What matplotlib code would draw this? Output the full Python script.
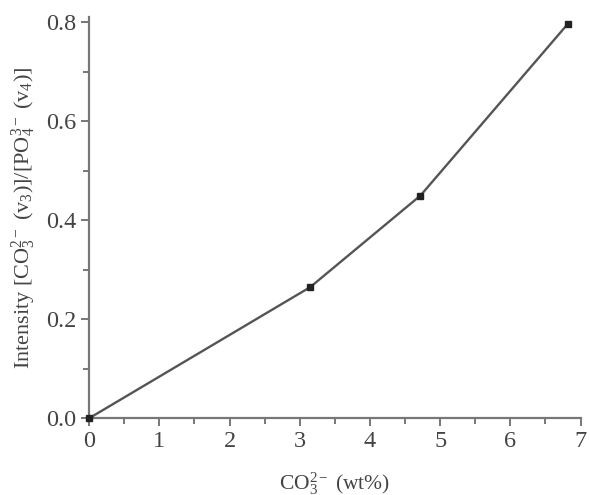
import matplotlib
matplotlib.use("Agg")
import matplotlib.pyplot as plt
from matplotlib.ticker import MultipleLocator, FormatStrFormatter

plt.rcParams['font.family'] = ['Liberation Serif', 'DejaVu Serif']
plt.rcParams['mathtext.fontset'] = 'custom'
plt.rcParams['mathtext.rm'] = 'Liberation Serif'
plt.rcParams['mathtext.it'] = 'Liberation Serif:italic'

co3_wt = [0.0, 3.15, 4.72, 6.82]
intensity = [0.0, 0.265, 0.45, 0.797]

fig = plt.figure(figsize=(5.9, 4.95), dpi=100)
ax = fig.add_axes([0.151, 0.155, 0.833, 0.81])

ax.plot(co3_wt, intensity, color='#555555', lw=1.7, marker='s', ms=5,
        mfc='#222222', mec='#222222', clip_on=False, zorder=3)

ax.set_xlim(0, 7)
ax.set_ylim(0, 0.81)
ax.xaxis.set_major_locator(MultipleLocator(1))
ax.xaxis.set_minor_locator(MultipleLocator(0.5))
ax.yaxis.set_major_locator(MultipleLocator(0.2))
ax.yaxis.set_minor_locator(MultipleLocator(0.1))
ax.yaxis.set_major_formatter(FormatStrFormatter('%.1f'))

for s in ['top', 'right']:
    ax.spines[s].set_visible(False)
for s in ['left', 'bottom']:
    ax.spines[s].set_color('#777777')
    ax.spines[s].set_linewidth(1.6)

ax.tick_params(which='both', direction='out', color='#777777', width=1.4,
               labelsize=17.5, labelcolor='#444444')
ax.tick_params(which='major', length=6, pad=3)
ax.tick_params(which='minor', length=4)

ax.set_ylabel(r'Intensity [CO$_3^{2-}$ (v$_3$)]/[PO$_4^{3-}$ (v$_4$)]',
              fontsize=16, color='#444444', labelpad=6)
ax.set_xlabel(r'CO$_3^{2-}$ (wt%)', fontsize=15.5, color='#444444', labelpad=13)

fig.savefig('out.png', dpi=100)
